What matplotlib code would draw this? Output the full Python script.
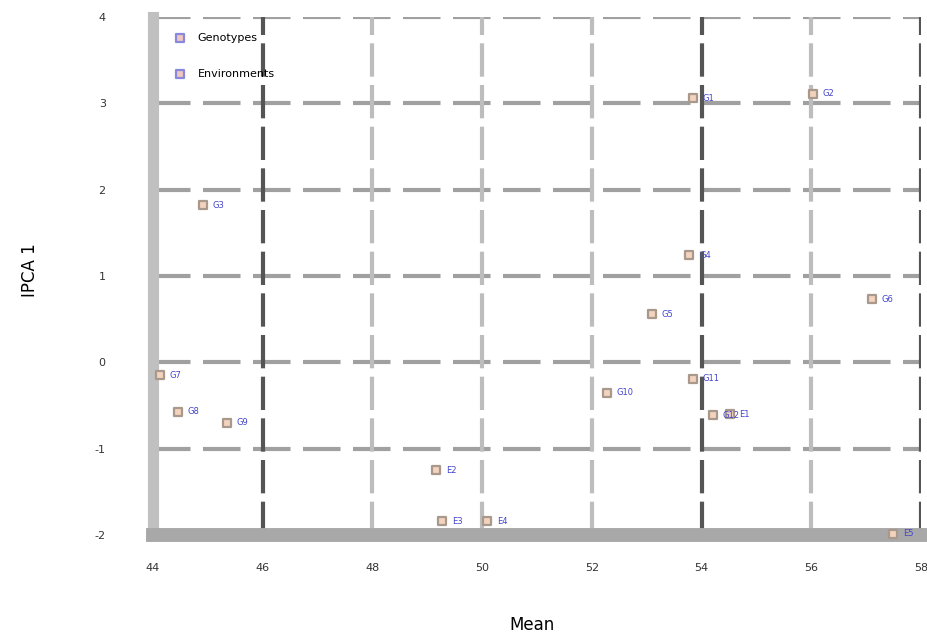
import matplotlib.pyplot as plt

plt.rcParams["axes.unicode_minus"] = False

# AMMI biplot data: mean vs IPCA 1
geno_labels = ["G1", "G2", "G3", "G4", "G5", "G6", "G7", "G8", "G9", "G10", "G11", "G12"]
geno_mean = [53.84, 56.03, 44.91, 53.78, 53.10, 57.11, 44.13, 44.46, 45.35, 52.28, 53.84, 54.20]
geno_ipca = [3.06, 3.11, 1.82, 1.24, 0.56, 0.73, -0.15, -0.57, -0.70, -0.35, -0.19, -0.61]

env_labels = ["E1", "E2", "E3", "E4", "E5"]
env_mean = [54.51, 49.16, 49.27, 50.09, 57.49]
env_ipca = [-0.60, -1.25, -1.84, -1.84, -1.98]

x_ticks = [44, 46, 48, 50, 52, 54, 56, 58]
y_ticks = [-2, -1, 0, 1, 2, 3, 4]

fig = plt.figure(figsize=(9.27, 6.41), dpi=100)
ax = fig.add_axes([0.165, 0.165, 0.8285, 0.8085])

# grid lines
for yv in y_ticks:
    ax.axhline(yv, color="#a0a0a0", lw=3, dashes=(9, 3), zorder=1)
for xv in x_ticks:
    dark = xv in (46, 54, 58)
    ax.axvline(xv, color="#555555" if dark else "#bdbdbd", lw=3,
               dashes=(8, 2), zorder=1)

ax.scatter(geno_mean, geno_ipca, marker="s", s=32, facecolor="#f3d3bd",
           edgecolor="#a8998c", linewidth=1.6, zorder=5, clip_on=False,
           label="Genotypes")
ax.scatter(env_mean, env_ipca, marker="s", s=32, facecolor="#f3d3bd",
           edgecolor="#a8998c", linewidth=1.6, zorder=5, clip_on=False,
           label="Environments")

for lab, x, y in zip(geno_labels + env_labels, geno_mean + env_mean, geno_ipca + env_ipca):
    ax.annotate(lab, (x, y), xytext=(7, 0), textcoords="offset points",
                color="#4444cc", fontsize=6, va="center", zorder=6,
                annotation_clip=False)

ax.set_xlim(44, 58)
ax.set_ylim(-2, 4)
ax.set_xticks(x_ticks)
ax.set_yticks(y_ticks)
ax.tick_params(axis="x", length=0, pad=20, labelsize=8, labelcolor="#333333")
ax.tick_params(axis="y", length=0, pad=34, labelsize=8, labelcolor="#333333")

for side in ("top", "right"):
    ax.spines[side].set_visible(False)
ax.spines["left"].set_color("#c0c0c0")
ax.spines["left"].set_linewidth(8)
ax.spines["bottom"].set_color("#a8a8a8")
ax.spines["bottom"].set_linewidth(10)

ax.set_xlabel("Mean", fontsize=12, va="center")
ax.xaxis.set_label_coords(0.493, -0.174)
ax.set_ylabel("IPCA 1", fontsize=12, va="center")
ax.yaxis.set_label_coords(-0.16, 0.512)

leg = ax.legend(loc="upper left", frameon=False, fontsize=8, labelspacing=2.4,
                handletextpad=0.6, borderaxespad=1.0)
for h in leg.legend_handles:
    h.set_edgecolor("#8888dd")
    h.set_facecolor("#f0c8c0")

fig.savefig("out.png", dpi=100)
